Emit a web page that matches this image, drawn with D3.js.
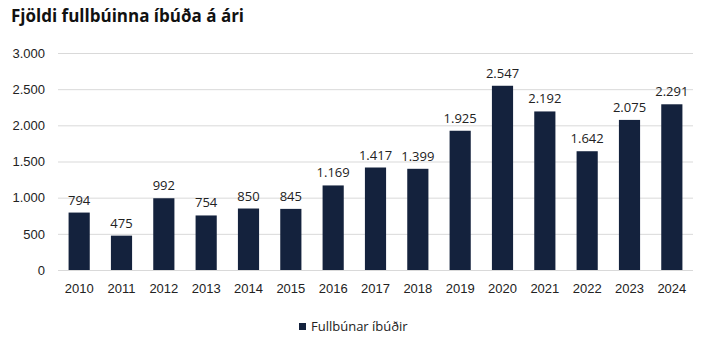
<!DOCTYPE html>
<html lang="is">
<head>
<meta charset="UTF-8">
<title>Fjöldi fullbúinna íbúða á ári</title>
<script src="https://d3js.org/d3.v7.min.js"></script>
<style>
  body { margin: 0; background: #fff; }
  svg { font-family: "Open Sans", "Noto Sans", sans-serif; }
</style>
</head>
<body>
<div id="chart"></div>
<script>
// data
const years = ["2010","2011","2012","2013","2014","2015","2016","2017","2018","2019","2020","2021","2022","2023","2024"];
const completed = [794, 475, 992, 754, 850, 845, 1169, 1417, 1399, 1925, 2547, 2192, 1642, 2075, 2291];
const yTicks = [0, 500, 1000, 1500, 2000, 2500, 3000];
const seriesName = "Fullbúnar íbúðir";

const width = 713, height = 352;
const margin = { top: 53, right: 20, bottom: 82, left: 58 };
const barColor = "#14223d";

const fmt = n => d3.format(",")(n).replace(/,/g, ".");

const svg = d3.select("#chart").append("svg")
  .attr("width", width)
  .attr("height", height);

svg.append("text")
  .attr("x", 11).attr("y", 22)
  .attr("font-size", 17).attr("font-weight", 700)
  .attr("fill", "#111")
  .text("Fjöldi fullbúinna íbúða á ári");

const x = d3.scaleBand()
  .domain(years)
  .range([margin.left, width - margin.right])
  .paddingInner(0.5).paddingOuter(0.25);

const y = d3.scaleLinear()
  .domain([0, 3000])
  .range([height - margin.bottom, margin.top]);

// gridlines + y labels
const yAxis = svg.append("g")
  .attr("transform", `translate(${margin.left},0)`)
  .call(d3.axisLeft(y).tickValues(yTicks).tickSize(-(width - margin.left - margin.right)).tickFormat(fmt).tickPadding(13));
yAxis.select(".domain").remove();
yAxis.selectAll(".tick line").attr("stroke", "#d9d9d9");
yAxis.selectAll(".tick text").attr("font-size", 13).attr("fill", "#222");

// bars
svg.append("g").selectAll("rect")
  .data(years)
  .join("rect")
  .attr("x", d => x(d))
  .attr("y", (d, i) => y(completed[i]))
  .attr("width", x.bandwidth())
  .attr("height", (d, i) => y(0) - y(completed[i]))
  .attr("fill", barColor);

// value labels
svg.append("g").selectAll("text")
  .data(years)
  .join("text")
  .attr("x", d => x(d) + x.bandwidth() / 2)
  .attr("y", (d, i) => y(completed[i]) - 8)
  .attr("text-anchor", "middle")
  .attr("font-size", 13).attr("fill", "#222")
  .text((d, i) => fmt(completed[i]));

// x axis
const xAxis = svg.append("g")
  .attr("transform", `translate(0,${y(0)})`)
  .call(d3.axisBottom(x).tickSize(0).tickPadding(14));
xAxis.select(".domain").remove();
xAxis.selectAll(".tick text").attr("font-size", 13).attr("fill", "#222");

// legend
const legend = svg.append("g").attr("transform", "translate(299,322)");
legend.append("rect").attr("width", 7).attr("height", 7).attr("y", 1).attr("fill", barColor);
legend.append("text").attr("x", 12).attr("y", 9).attr("font-size", 13).attr("fill", "#222").text(seriesName);
</script>
</body>
</html>
